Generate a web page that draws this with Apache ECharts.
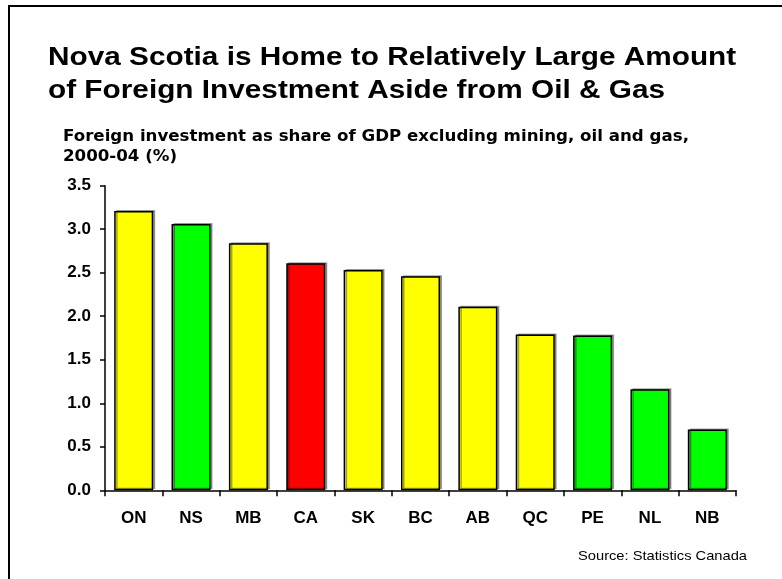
<!DOCTYPE html>
<html>
<head>
<meta charset="utf-8">
<script src="https://cdn.jsdelivr.net/npm/echarts@6/dist/echarts.min.js"></script>
<style>
  html, body { margin: 0; padding: 0; background: #fff; }
  #chart { width: 782px; height: 579px; }
</style>
</head>
<body>
<div id="chart"></div>
<script>
// Provinces and the national total, sorted by share
const provinces = ['ON', 'NS', 'MB', 'CA', 'SK', 'BC', 'AB', 'QC', 'PE', 'NL', 'NB'];
// Foreign investment as % of GDP (excl. mining, oil and gas), 2000-04
const shareOfGdp = [3.21, 3.06, 2.84, 2.61, 2.53, 2.46, 2.11, 1.79, 1.78, 1.16, 0.70];
// Bar fill group: 'east' = Atlantic, 'nat' = Canada, 'other' = rest
const barGroup = ['other', 'east', 'other', 'nat', 'other', 'other', 'other', 'other', 'east', 'east', 'east'];
const yTicks = ['0.0', '0.5', '1.0', '1.5', '2.0', '2.5', '3.0', '3.5'];

const groupColor = { other: '#FFFF00', east: '#00FF00', nat: '#FF0000' };

const chart = echarts.init(document.getElementById('chart'), null, { renderer: 'canvas' });

// slightly widened lettering, as on the slide
const WIDE = 1.13;

chart.setOption({
  backgroundColor: '#ffffff',
  animation: false,
  graphic: [
    {
      type: 'rect',
      shape: { x: 9, y: 6, width: 800, height: 600 },
      style: { fill: 'none', stroke: '#000', lineWidth: 2 },
      silent: true
    },
    {
      type: 'text',
      x: 48, y: 41, scaleX: 1.145,
      style: {
        text: 'Nova Scotia is Home to Relatively Large Amount\nof Foreign Investment Aside from Oil & Gas',
        font: 'bold 26px "Liberation Sans", Arial, sans-serif',
        lineHeight: 33,
        verticalAlign: 'top',
        fill: '#000'
      }
    },
    {
      type: 'text',
      x: 63, y: 127, scaleX: 1.11,
      style: {
        text: 'Foreign investment as share of GDP excluding mining, oil and gas,\n2000-04 (%)',
        font: 'bold 15px "DejaVu Sans", Verdana, sans-serif',
        lineHeight: 20,
        verticalAlign: 'top',
        fill: '#000'
      }
    },
    {
      type: 'text',
      x: 578, y: 550, scaleX: WIDE,
      style: {
        text: 'Source: Statistics Canada',
        font: '13px "Liberation Sans", Arial, sans-serif',
        verticalAlign: 'top',
        fill: '#000'
      }
    }
  ],
  grid: { left: 105, right: 46, top: 185.7, bottom: 88.7, containLabel: false },
  xAxis: {
    type: 'category',
    data: provinces,
    axisLine: { show: true, lineStyle: { color: '#000', width: 1.5 } },
    axisTick: { show: true, alignWithLabel: false, length: 6, lineStyle: { color: '#000', width: 1.5 } },
    axisLabel: {
      color: '#000',
      fontFamily: '"Liberation Sans", Arial, sans-serif',
      fontWeight: 'bold',
      fontSize: 17,
      margin: 20
    },
    splitLine: { show: false }
  },
  yAxis: {
    type: 'value',
    min: 0, max: 3.5, interval: 0.5,
    axisLine: { show: true, lineStyle: { color: '#000', width: 1.5 } },
    axisTick: { show: true, length: 5, inside: false, lineStyle: { color: '#000', width: 1.5 } },
    axisLabel: {
      color: '#000',
      fontFamily: '"Liberation Sans", Arial, sans-serif',
      fontWeight: 'bold',
      fontSize: 17,
      margin: 14,
      formatter: function (v) { return yTicks[Math.round(v / 0.5)]; }
    },
    splitLine: { show: false }
  },
  series: [{
    type: 'bar',
    barCategoryGap: '32%',
    data: shareOfGdp.map(function (v, i) {
      return {
        value: v,
        itemStyle: { color: groupColor[barGroup[i]] }
      };
    }),
    itemStyle: {
      borderColor: '#000',
      borderWidth: 1.5,
      shadowColor: 'rgba(0,0,0,0.35)',
      shadowBlur: 0,
      shadowOffsetX: 2,
      shadowOffsetY: -1
    }
  }]
});
</script>
</body>
</html>
